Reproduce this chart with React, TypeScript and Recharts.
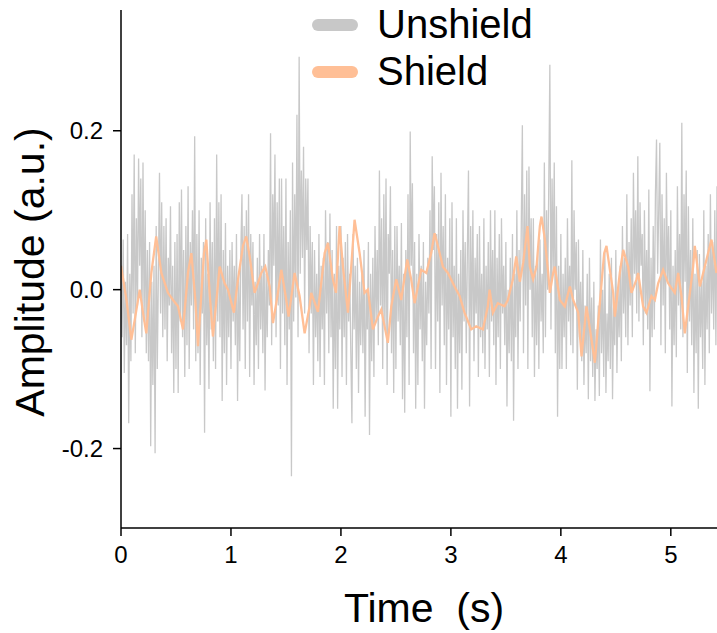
import React from 'react';
import { LineChart, Line, XAxis, YAxis } from 'recharts';

const FONT = '"Liberation Sans", Arial, Helvetica, sans-serif';

// Unshield signal, sampled every 0.01 s, one array per second
const SAMPLE_STEP = 0.01;
const unshield0 = [
  0.03, -0.06, 0.063, -0.105, 0.01,
  -0.07, 0.07, -0.168, 0.02, -0.09,
  0.12, -0.03, 0.17, -0.08, 0.09,
  -0.02, 0.165, 0.03, 0.14, -0.06,
  0.16, -0.04, 0.1, -0.08, 0.05,
  -0.09, 0.06, -0.197, 0.01, -0.12,
  0.03, -0.206, 0.08, -0.1, 0.02,
  0.147, -0.03, 0.11, -0.06, 0.08,
  -0.05, 0.09, -0.09, 0.04, -0.02,
  0.105, -0.08, 0.03, -0.13, 0.06,
  -0.1, 0.07, -0.13, 0.11, -0.04,
  0.126, -0.06, 0.05, -0.11, 0.08,
  -0.07, 0.13, -0.1, 0.06, -0.02,
  0.1, -0.05, 0.193, -0.09, 0.07,
  -0.08, 0.1, -0.12, 0.04, -0.03,
  0.06, -0.18, 0.09, -0.07, 0.02,
  -0.125, 0.11, -0.05, 0.06, -0.09,
  0.09, -0.1, 0.17, -0.04, 0.11,
  -0.06, 0.12, -0.14, 0.05, -0.08,
  0.084, -0.12, 0.03, -0.06, 0.05,
];
const unshield1 = [
  -0.1, 0.06, -0.04, 0.03, -0.07,
  0.07, -0.14, 0.02, -0.09, 0.05,
  0.12, -0.05, 0.08, -0.1, 0.1,
  -0.04, 0.12, -0.11, 0.07, -0.02,
  0.06, -0.12, 0.01, -0.07, 0.04,
  -0.1, 0.07, -0.05, 0.03, -0.08,
  0.07, -0.127, 0.02, -0.06, 0.05,
  -0.02, 0.197, -0.07, 0.12, 0.03,
  0.17, -0.06, 0.11, -0.02, 0.14,
  -0.1, 0.14, -0.03, 0.08, -0.07,
  0.14, -0.12, 0.06, -0.05, 0.1,
  -0.235, 0.16, -0.04, 0.12, -0.01,
  0.22, -0.06, 0.293, 0.02, 0.15,
  0.04, 0.18, -0.03, 0.14, 0.05,
  0.14, -0.08, 0.08, -0.03, 0.06,
  -0.12, 0.05, -0.06, 0.02, -0.09,
  0.07, -0.11, 0.03, -0.05, 0.04,
  -0.12, 0.1, -0.03, 0.06, -0.08,
  0.096, -0.06, 0.05, -0.15, 0.02,
  -0.1, 0.08, -0.15, 0.03, -0.05,
];
const unshield2 = [
  0.08, -0.11, 0.04, -0.06, 0.06,
  -0.12, 0.07, -0.04, 0.02, -0.08,
  -0.168, 0.07, -0.05, 0.03, -0.1,
  0.04, -0.13, 0.01, -0.07, 0.02,
  -0.08, 0.05, -0.16, 0.0, -0.05,
  0.06, -0.183, 0.02, -0.09, 0.04,
  -0.11, 0.08, -0.04, 0.05, -0.07,
  0.15, -0.02, 0.09, -0.1, 0.12,
  -0.05, 0.14, -0.12, 0.07, 0.02,
  0.13, -0.08, 0.05, -0.13, 0.08,
  -0.1, 0.08, -0.04, 0.03, -0.07,
  0.084, -0.138, 0.02, -0.155, 0.05,
  -0.06, 0.12, -0.12, 0.199, 0.03,
  0.134, -0.08, 0.06, -0.15, 0.02,
  -0.12, 0.07, -0.05, 0.03, -0.09,
  0.06, -0.15, 0.01, -0.07, 0.04,
  -0.03, 0.1, -0.1, 0.168, 0.05,
  0.13, -0.1, 0.07, -0.04, 0.11,
  -0.13, 0.147, -0.02, 0.08, -0.07,
  0.12, -0.12, 0.04, -0.05, 0.09,
];
const unshield3 = [
  -0.16, 0.11, -0.06, 0.03, -0.1,
  0.09, -0.15, 0.02, -0.08, 0.05,
  -0.126, 0.1, -0.04, 0.06, -0.08,
  0.05, 0.15, -0.147, 0.08, -0.05,
  0.1, -0.09, 0.04, -0.03, 0.07,
  -0.11, 0.08, -0.06, 0.02, -0.08,
  0.09, -0.1, 0.03, -0.05, 0.06,
  -0.11, 0.1, -0.04, 0.05, -0.07,
  0.1, -0.12, 0.04, -0.06, 0.07,
  -0.1, 0.09, -0.03, 0.03, -0.07,
  0.06, -0.147, 0.0, -0.08, 0.04,
  -0.09, 0.07, -0.165, 0.02, -0.06,
  0.1, -0.1, 0.05, -0.04, 0.08,
  0.207, -0.08, 0.12, -0.02, 0.15,
  -0.1, 0.155, 0.0, 0.09, -0.06,
  0.09, -0.11, 0.03, -0.07, 0.05,
  -0.1, 0.063, -0.04, 0.02, -0.08,
  0.16, -0.06, 0.1, 0.0, 0.13,
  0.283, -0.05, 0.14, 0.02, 0.16,
  -0.08, 0.105, -0.16, 0.03, -0.1,
];
const unshield4 = [
  0.07, -0.1, 0.02, -0.06, 0.04,
  -0.1, 0.09, -0.04, 0.03, -0.07,
  0.163, -0.08, 0.1, 0.0, 0.06,
  -0.126, 0.063, -0.06, 0.01, -0.09,
  0.05, -0.12, -0.02, -0.08, 0.02,
  -0.138, 0.04, -0.09, -0.01, -0.11,
  0.01, -0.14, -0.05, -0.1, -0.02,
  -0.134, 0.063, -0.08, 0.0, -0.11,
  0.05, -0.13, -0.03, -0.09, 0.02,
  -0.1, 0.04, -0.138, -0.02, -0.07,
  0.05, -0.105, 0.0, -0.06, 0.03,
  -0.09, 0.08, -0.03, 0.04, -0.06,
  0.12, -0.07, 0.06, -0.02, 0.09,
  -0.06, 0.147, 0.02, 0.1, -0.03,
  0.168, -0.04, 0.11, 0.03, 0.07,
  -0.07, 0.1, -0.03, 0.05, -0.05,
  0.126, -0.128, 0.04, -0.06, 0.08,
  -0.05, 0.12, 0.189, 0.02, 0.1,
  0.185, -0.07, 0.12, -0.02, 0.09,
  -0.08, 0.147, 0.01, 0.08, -0.05,
];
const unshield5 = [
  0.1, -0.147, 0.03, -0.07, 0.05,
  -0.085, 0.13, -0.02, 0.07, -0.05,
  0.21, -0.06, 0.12, 0.01, 0.15,
  -0.105, 0.105, -0.04, 0.05, -0.07,
  0.09, -0.13, 0.02, -0.08, 0.05,
  -0.15, 0.045, -0.06, 0.01, -0.1,
  0.1, -0.12, 0.03, -0.05, 0.07,
  -0.08, 0.12, -0.03, 0.06, -0.05,
  0.1, -0.07, 0.13,
];
const unshieldSeconds = [unshield0, unshield1, unshield2, unshield3, unshield4, unshield5];

// Shield signal (time in s, amplitude in a.u.)
const shieldTime = [
  0, 0.05, 0.094, 0.13, 0.17, 0.2, 0.23, 0.276, 0.32, 0.367, 0.427, 0.473, 0.518, 0.564,
  0.609, 0.64, 0.676, 0.7, 0.755, 0.776, 0.806, 0.836, 0.897, 0.942, 0.973, 1.027, 1.064,
  1.109, 1.139, 1.17, 1.215, 1.245, 1.276, 1.312, 1.352, 1.382, 1.427, 1.458, 1.503, 1.524,
  1.579, 1.624, 1.67, 1.715, 1.73, 1.791, 1.852, 1.882, 1.927, 1.955, 1.988, 2.018, 2.064,
  2.124, 2.17, 2.215, 2.245, 2.291, 2.336, 2.367, 2.427, 2.458, 2.503, 2.548, 2.603, 2.639,
  2.67, 2.73, 2.776, 2.821, 2.852, 2.882, 2.927, 2.973, 3.033, 3.079, 3.124, 3.185, 3.23,
  3.291, 3.336, 3.352, 3.382, 3.427, 3.488, 3.518, 3.564, 3.594, 3.627, 3.658, 3.697, 3.718,
  3.748, 3.779, 3.809, 3.824, 3.855, 3.885, 3.9, 3.93, 3.945, 3.991, 4.036, 4.082, 4.112,
  4.158, 4.188, 4.233, 4.279, 4.309, 4.339, 4.394, 4.415, 4.476, 4.491, 4.536, 4.567, 4.612,
  4.642, 4.688, 4.703, 4.748, 4.779, 4.824, 4.855, 4.885, 4.93, 4.976, 5.036, 5.067, 5.097,
  5.127, 5.158, 5.203, 5.218, 5.264, 5.309, 5.355, 5.37, 5.415,
];
const shieldAmp = [
  0.03, -0.013, -0.063, -0.034, 0.0, -0.029, -0.055, 0.021, 0.067, 0.021, -0.004, -0.013, -0.021, -0.05,
  0.021, 0.046, -0.013, -0.071, 0.046, 0.063, -0.004, -0.059, 0.029, 0.008, 0.0, -0.029, 0.013,
  0.055, 0.067, 0.042, -0.004, 0.008, 0.021, 0.029, 0.004, -0.042, -0.004, 0.025, -0.013, -0.034,
  0.021, -0.008, -0.055, -0.021, -0.004, -0.028, 0.046, 0.059, 0.013, -0.004, 0.08, 0.029, -0.029,
  0.088, 0.046, -0.004, 0.0, -0.05, -0.034, -0.025, -0.067, -0.021, 0.013, -0.013, 0.038, 0.013,
  -0.017, 0.025, 0.021, 0.046, 0.071, 0.055, 0.029, 0.021, 0.004, -0.008, -0.029, -0.05, -0.046,
  -0.05, -0.021, 0.0, -0.029, -0.017, -0.021, -0.013, 0.013, 0.042, 0.01, 0.034, 0.08, 0.029,
  0.013, 0.029, 0.08, 0.092, 0.063, 0.021, -0.004, 0.021, 0.029, -0.013, -0.021, 0.004, -0.013,
  -0.029, -0.084, -0.021, -0.063, -0.092, -0.042, 0.046, 0.055, -0.004, -0.034, 0.021, 0.05, 0.029,
  -0.004, 0.013, 0.021, -0.021, -0.029, -0.008, -0.013, 0.008, 0.025, 0.008, -0.004, 0.021, -0.008,
  -0.055, -0.021, 0.029, 0.055, 0.004, 0.029, 0.055, 0.063, 0.021,
];

const xTicks = [0, 1, 2, 3, 4, 5];
const yTicks = [-0.2, 0, 0.2];

const unshieldData = unshieldSeconds.flatMap((arr, s) =>
  arr.map((v, i) => ({ t: Math.round((s + i * SAMPLE_STEP) * 1000) / 1000, v }))
);
const shieldData = shieldTime.map((t, i) => ({ t, v: shieldAmp[i] }));

const GRAY = '#c8c8c8';
const ORANGE = '#ffbf96';

export default function App() {
  return (
    <div
      style={{
        position: 'absolute',
        left: 0,
        top: 0,
        width: 717,
        height: 633,
        background: '#fff',
        overflow: 'hidden',
        fontFamily: FONT,
      }}
    >
      <LineChart width={717} height={633} margin={{ top: 10, right: 0, bottom: 0, left: 0 }}>
        <XAxis
          dataKey="t"
          type="number"
          domain={[0, 5.42]}
          ticks={xTicks}
          allowDataOverflow
          height={105}
          tickSize={8}
          tickMargin={10}
          axisLine={{ stroke: '#000', strokeWidth: 1.5 }}
          tickLine={{ stroke: '#000', strokeWidth: 1.5 }}
          tick={{ fill: '#000', fontSize: 24, fontFamily: FONT }}
          tickFormatter={(v: number) => String(v)}
        />
        <YAxis
          type="number"
          domain={[-0.3, 0.352]}
          ticks={yTicks}
          allowDataOverflow
          width={121}
          tickSize={8}
          tickMargin={10}
          axisLine={{ stroke: '#000', strokeWidth: 1.5 }}
          tickLine={{ stroke: '#000', strokeWidth: 1.5 }}
          tick={{ fill: '#000', fontSize: 24, fontFamily: FONT }}
          tickFormatter={(v: number) => v.toFixed(1)}
        />
        <Line
          data={unshieldData}
          dataKey="v"
          stroke={GRAY}
          strokeWidth={1.3}
          dot={false}
          activeDot={false}
          isAnimationActive={false}
        />
        <Line
          data={shieldData}
          dataKey="v"
          stroke={ORANGE}
          strokeWidth={2.3}
          dot={false}
          activeDot={false}
          isAnimationActive={false}
        />
      </LineChart>
      <svg
        width={717}
        height={633}
        style={{ position: 'absolute', left: 0, top: 0, pointerEvents: 'none' }}
      >
        <line x1={318} y1={25} x2={352} y2={25} stroke={GRAY} strokeWidth={12} strokeLinecap="round" />
        <text x={377} y={38} fontSize={40} fontFamily={FONT} fill="#000">Unshield</text>
        <line x1={318} y1={72} x2={352} y2={72} stroke={ORANGE} strokeWidth={12} strokeLinecap="round" />
        <text x={377} y={85} fontSize={40} fontFamily={FONT} fill="#000">Shield</text>
        <text
          x={424}
          y={622}
          fontSize={41}
          fontFamily={FONT}
          fill="#000"
          textAnchor="middle"
          style={{ whiteSpace: 'pre' }}
        >
          {'Time  (s)'}
        </text>
        <text
          x={44}
          y={272}
          fontSize={41}
          fontFamily={FONT}
          fill="#000"
          textAnchor="middle"
          transform="rotate(-90, 44, 272)"
        >
          Amplitude (a.u.)
        </text>
      </svg>
    </div>
  );
}
